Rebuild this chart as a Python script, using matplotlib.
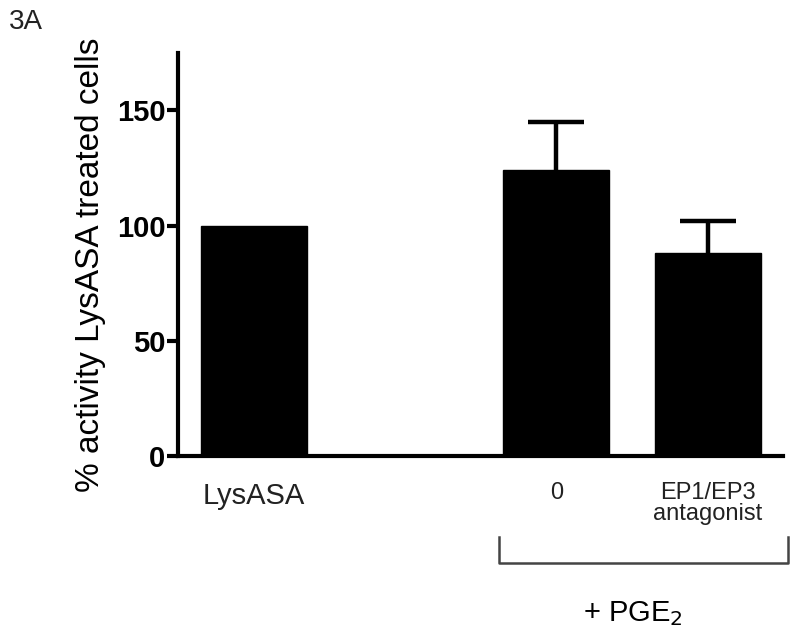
import matplotlib
matplotlib.use("Agg")
import matplotlib.pyplot as plt
from matplotlib.lines import Line2D

plt.rcParams['font.family'] = ['Liberation Sans', 'DejaVu Sans']

# data
groups = ["LysASA", "0", "EP1/EP3\nantagonist"]
label_sizes = [21, 17, 17]
positions = [0, 2, 3]
means = [100, 124, 88]
errors = [0, 21, 14]

fig = plt.figure(figsize=(8, 6.4), dpi=100)
ax = fig.add_axes([0.2225, 0.2875, 0.7565, 0.630])

ax.bar(positions, means, width=0.7, color='black', edgecolor='black', zorder=3)
for x, m, e in zip(positions, means, errors):
    if e > 0:
        _, caps, _ = ax.errorbar(x, m, yerr=[[0], [e]], fmt='none', ecolor='black',
                                 elinewidth=3.2, capsize=20, capthick=3.2, zorder=2)
        caps[0].set_visible(False)  # no cap at the bar top

ax.set_xlim(-0.5, 3.5)
ax.set_ylim(0, 175)
ax.set_yticks([0, 50, 100, 150])
ax.set_yticklabels(['0', '50', '100', '150'], fontsize=21, fontweight='bold')
ax.set_xticks(positions)
ax.set_xticklabels([])
ax.tick_params(axis='y', length=8, width=3, pad=1)
ax.tick_params(axis='x', length=0)
for s in ['top', 'right']:
    ax.spines[s].set_visible(False)
for s in ['left', 'bottom']:
    ax.spines[s].set_linewidth(3)

ax.set_ylabel('% activity LysASA treated cells', fontsize=24, labelpad=8)
ax.yaxis.label.set_y(0.474)

# category labels under the bars
for x, g, fs in zip(positions, groups, label_sizes):
    ax.annotate(g, xy=(x, 0), xycoords='data', xytext=(0, -19),
                textcoords='offset points', ha='center', va='top',
                fontsize=fs, linespacing=0.9, color='#222222')

# bracket for + PGE2
bx0, bx1 = 499 / 800, 788 / 800
by_top, by_bot = 1 - 537 / 640, 1 - 563 / 640
fig.add_artist(Line2D([bx0, bx0, bx1, bx1], [by_top, by_bot, by_bot, by_top],
                      color='#444444', lw=1.8, transform=fig.transFigure))
fig.text(633 / 800, 1 - 614 / 640, '+ PGE$_2$', ha='center', va='center', fontsize=21)

fig.text(0.011, 1 - 22 / 640, '3A', ha='left', va='center', fontsize=20, color='#222222')

fig.savefig('out.png', dpi=100)
